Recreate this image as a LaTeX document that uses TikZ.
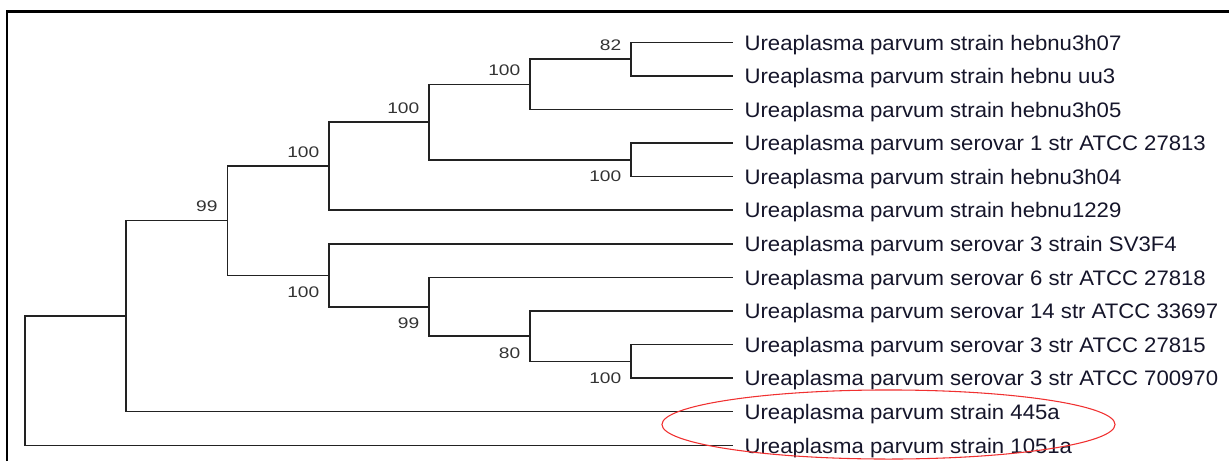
\documentclass[tikz,border=0pt]{standalone}
\usepackage{fontspec}
\setmainfont{Liberation Sans}
\newfontfamily\leaffont[FakeStretch=1.055]{Liberation Sans}
\newfontfamily\bsfont[FakeStretch=1.25]{Liberation Sans}
\definecolor{treeline}{HTML}{222222}
\definecolor{leaftext}{HTML}{15152A}
\definecolor{bstext}{HTML}{333333}
\definecolor{markred}{HTML}{F03030}
\begin{document}
\begin{tikzpicture}[x=0.75pt,y=-0.75pt,
  branch/.style={draw=treeline,line width=1.1pt},
  leaflabel/.style={anchor=base west,inner sep=0pt,font=\leaffont\fontsize{15.75pt}{18pt}\selectfont,text=leaftext},
  bsabove/.style={anchor=base east,inner sep=0pt,font=\bsfont\fontsize{11.5pt}{13pt}\selectfont,text=bstext},
  bsbelow/.style={anchor=base east,inner sep=0pt,font=\bsfont\fontsize{11.5pt}{13pt}\selectfont,text=bstext},
  frameline/.style={draw=black,line width=1.9pt},
  highlight/.style={draw=markred,line width=0.8pt}]
\useasboundingbox (0,0) rectangle (1229,461);

% frame edges (top and left)
\draw[frameline] (7.2,461) -- (7.2,11.3) -- (1229,11.3);

% leaf tips
\foreach \i/\y in {1/42.3,2/75.9,3/109.5,4/143.0,5/176.6,6/210.2,7/243.8,
                   8/277.4,9/311.0,10/344.5,11/378.1,12/411.7,13/445.3}
  \coordinate (t\i) at (733,\y);

% leaf labels
\node[leaflabel] (n1)  at (744.3,50.0)  {Ureaplasma parvum strain hebnu3h07};
\node[leaflabel] (n2)  at (744.3,83.6)  {Ureaplasma parvum strain hebnu uu3};
\node[leaflabel] (n3)  at (744.3,117.2) {Ureaplasma parvum strain hebnu3h05};
\node[leaflabel] (n4)  at (744.3,150.7) {Ureaplasma parvum serovar 1 str ATCC 27813};
\node[leaflabel] (n5)  at (744.3,184.3) {Ureaplasma parvum strain hebnu3h04};
\node[leaflabel] (n6)  at (744.3,217.9) {Ureaplasma parvum strain hebnu1229};
\node[leaflabel] (n7)  at (744.3,251.5) {Ureaplasma parvum serovar 3 strain SV3F4};
\node[leaflabel] (n8)  at (744.3,285.1) {Ureaplasma parvum serovar 6 str ATCC 27818};
\node[leaflabel] (n9)  at (744.3,318.7) {Ureaplasma parvum serovar 14 str ATCC 33697};
\node[leaflabel] (n10) at (744.3,352.2) {Ureaplasma parvum serovar 3 str ATCC 27815};
\node[leaflabel] (n11) at (744.3,385.8) {Ureaplasma parvum serovar 3 str ATCC 700970};
\node[leaflabel] (n12) at (744.3,419.4) {Ureaplasma parvum strain 445a};
\node[leaflabel] (n13) at (744.3,453.0) {Ureaplasma parvum strain 1051a};

% internal nodes
\coordinate (A) at (631,59.1);
\coordinate (B) at (530,84.3);
\coordinate (C) at (631,159.8);
\coordinate (D) at (429,122.1);
\coordinate (E) at (329,166.2);
\coordinate (F) at (631,361.3);
\coordinate (G) at (530,336.2);
\coordinate (H) at (429,306.8);
\coordinate (I) at (329,275.3);
\coordinate (J) at (227.3,220.7);
\coordinate (K) at (126,316.2);
\coordinate (R) at (25,380.7);

% branches
\draw[branch] (A) |- (t1);  \draw[branch] (A) |- (t2);
\draw[branch] (B) |- (A);   \draw[branch] (B) |- (t3);
\draw[branch] (C) |- (t4);  \draw[branch] (C) |- (t5);
\draw[branch] (D) |- (B);   \draw[branch] (D) |- (C);
\draw[branch] (E) |- (D);   \draw[branch] (E) |- (t6);
\draw[branch] (F) |- (t10); \draw[branch] (F) |- (t11);
\draw[branch] (G) |- (t9);  \draw[branch] (G) |- (F);
\draw[branch] (H) |- (t8);  \draw[branch] (H) |- (G);
\draw[branch] (I) |- (t7);  \draw[branch] (I) |- (H);
\draw[branch] (J) |- (E);   \draw[branch] (J) |- (I);
\draw[branch] (K) |- (J);   \draw[branch] (K) |- (t12);
\draw[branch] (R) |- (K);   \draw[branch] (R) |- (t13);

% bootstrap values
\node[bsabove] (bA) at ([shift={(-9.5,-9)}]A) {82};
\node[bsabove] (bB) at ([shift={(-9.5,-9)}]B) {100};
\node[bsbelow] (bC) at ([shift={(-9.5,22)}]C) {100};
\node[bsabove] (bD) at ([shift={(-9.5,-9)}]D) {100};
\node[bsabove] (bE) at ([shift={(-9.5,-9)}]E) {100};
\node[bsbelow] (bF) at ([shift={(-9.5,22)}]F) {100};
\node[bsbelow] (bG) at ([shift={(-9.5,22)}]G) {80};
\node[bsbelow] (bH) at ([shift={(-9.5,22)}]H) {99};
\node[bsbelow] (bI) at ([shift={(-9.5,22)}]I) {100};
\node[bsabove] (bJ) at ([shift={(-9.5,-9)}]J) {99};

% highlighted pair
\draw[highlight] (888.5,424.5) ellipse [x radius=169.9pt, y radius=25.9pt];
\end{tikzpicture}
\end{document}
